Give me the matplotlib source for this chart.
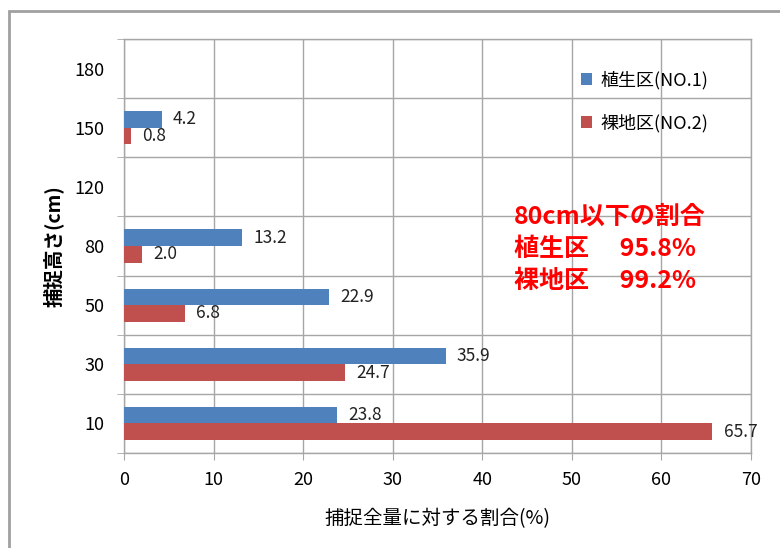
import numpy as np
import matplotlib
matplotlib.use("Agg")
import matplotlib.pyplot as plt
from matplotlib.patches import Rectangle

plt.rcParams['font.family'] = ['Noto Sans CJK JP', 'DejaVu Sans']

# 捕捉高さごとの割合(%)
heights = ['10', '30', '50', '80', '120', '150', '180']
veg = [23.8, 35.9, 22.9, 13.2, None, 4.2, None]      # 植生区(NO.1)
bare = [65.7, 24.7, 6.8, 2.0, None, 0.8, None]      # 裸地区(NO.2)
series_names = ['植生区(NO.1)', '裸地区(NO.2)']
note_lines = ['80cm以下の割合', '植生区　 95.8%', '裸地区　 99.2%']

blue = '#4F81BD'
red = '#C0504D'
grid_col = '#A6A6A6'

fig = plt.figure(figsize=(7.8, 5.48), dpi=100)
ax = fig.add_axes([124 / 780, 1 - 453 / 548, 627 / 780, 414 / 548])

# 外枠
fig.patches.append(Rectangle((9 / 780, -0.05), 1.1, 1 - 11 / 548 + 0.05,
                             transform=fig.transFigure, fill=False,
                             edgecolor='#A0A0A0', lw=2))

y = np.arange(len(heights))
h = 0.28
vb = np.array([v if v is not None else 0 for v in veg])
vr = np.array([v if v is not None else 0 for v in bare])
ax.barh(y + h / 2, vb, h, color=blue, label=series_names[0], zorder=3)
ax.barh(y - h / 2, vr, h, color=red, label=series_names[1], zorder=3)

for i in range(len(heights)):
    if veg[i] is not None:
        ax.annotate(f'{veg[i]:.1f}', (veg[i], y[i] + h / 2), xytext=(8, 0),
                    textcoords='offset points', va='center', ha='left',
                    fontsize=12.5, color='#222222', zorder=4)
    if bare[i] is not None:
        ax.annotate(f'{bare[i]:.1f}', (bare[i], y[i] - h / 2), xytext=(8, 0),
                    textcoords='offset points', va='center', ha='left',
                    fontsize=12.5, color='#222222', zorder=4)

ax.set_xlim(0, 70)
ax.set_ylim(-0.5, len(heights) - 0.5)
ax.set_xticks(np.arange(0, 71, 10))
ax.set_yticks(y)
ax.set_yticklabels(heights)
ax.set_yticks(np.arange(-0.5, len(heights)), minor=True)

ax.grid(axis='x', color=grid_col, lw=1, zorder=0)
ax.grid(axis='y', which='minor', color=grid_col, lw=1, zorder=0)
ax.tick_params(axis='y', which='major', length=0, labelsize=13, pad=14)
ax.tick_params(axis='y', which='minor', length=5, color=grid_col)
ax.tick_params(axis='x', length=5, color=grid_col, labelsize=13, pad=8)
for s in ax.spines.values():
    s.set_color(grid_col)
    s.set_linewidth(1)

ax.set_xlabel('捕捉全量に対する割合(%)', fontsize=14, labelpad=14)
ax.set_ylabel('捕捉高さ(cm)', fontsize=14, fontweight='bold', labelpad=8)

ax.legend(loc='upper left', bbox_to_anchor=(0.703, 0.962), frameon=False,
          fontsize=13, handlelength=0.6, handleheight=0.6, handletextpad=0.5,
          labelspacing=1.35)

ax.text(0.622, 0.6, '\n'.join(note_lines), transform=ax.transAxes,
        color='#FF0000', fontsize=18, fontweight='bold', va='top', ha='left',
        linespacing=1.42, zorder=5)

fig.savefig('out.png', dpi=100)
